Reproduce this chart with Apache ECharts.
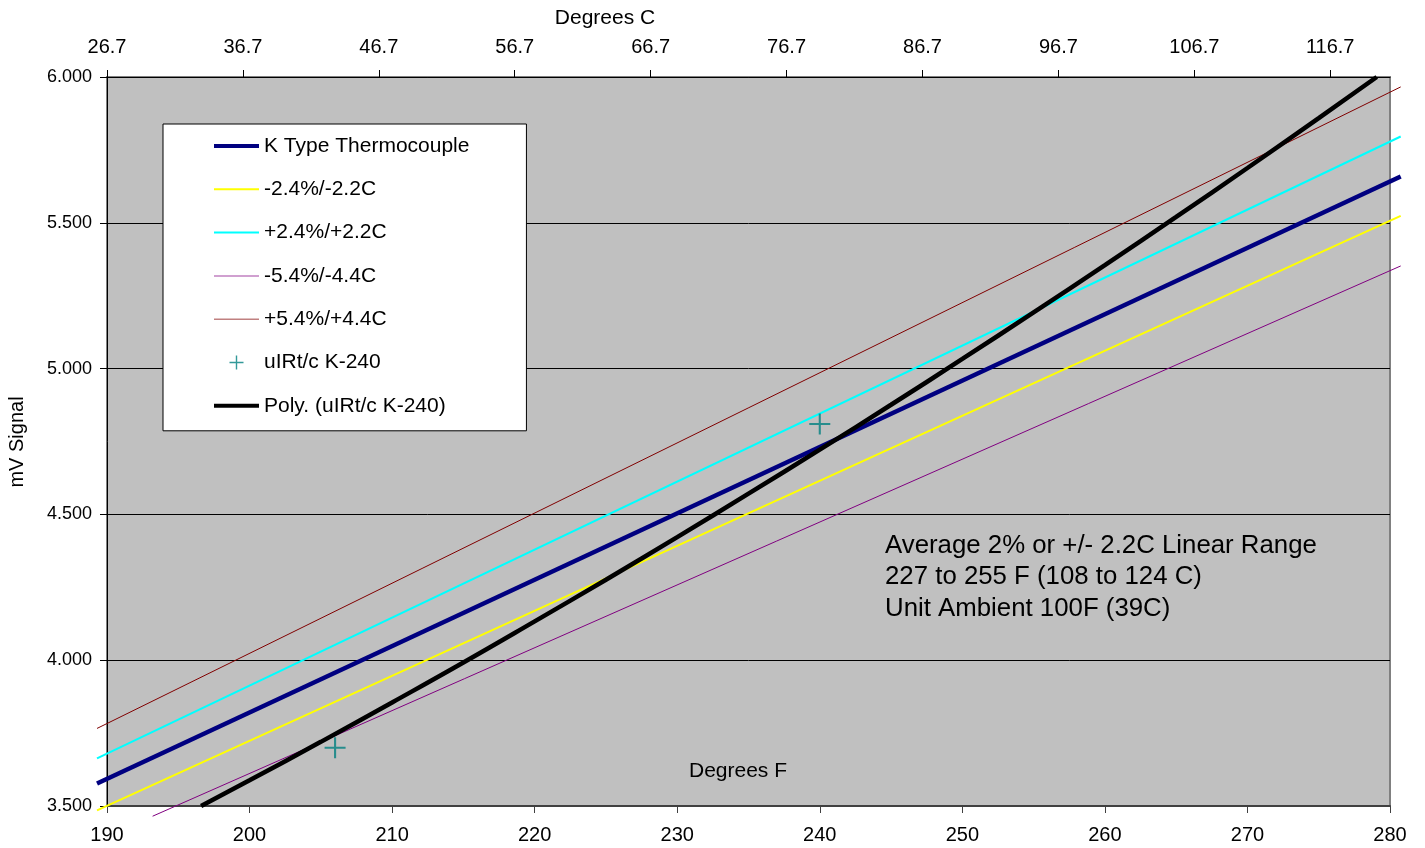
<!DOCTYPE html>
<html>
<head>
<meta charset="utf-8">
<script src="https://cdn.jsdelivr.net/npm/echarts@6/dist/echarts.min.js"></script>
<style>
html,body{margin:0;padding:0;background:#fff;}
#chart{width:1425px;height:848px;}
</style>
</head>
<body>
<div id="chart"></div>
<script>
// ---- data ----
const degreesC = [26.7, 36.7, 46.7, 56.7, 66.7, 76.7, 86.7, 96.7, 106.7, 116.7];
const lineF = [189.3, 280.75];
const kType = [3.577, 5.659];
const minus24 = [3.485, 5.524];
const plus24 = [3.663, 5.796];
const minus54F = [193.2, 280.75];
const minus54 = [3.465, 5.352];
const plus54 = [3.766, 5.966];
const measF = [206, 240];
const measMV = [3.70, 4.81];
const polyF = [196.6, 200, 205, 210, 215, 220, 225, 230, 235, 240, 245, 250, 255, 260, 265, 270, 275, 279.07];
const polyMV = [3.500, 3.588, 3.720, 3.855, 3.992, 4.133, 4.276, 4.422, 4.571, 4.722, 4.876, 5.033, 5.193, 5.355, 5.520, 5.688, 5.859, 6.000];

const names = ['K Type Thermocouple', '-2.4%/-2.2C', '+2.4%/+2.2C', '-5.4%/-4.4C', '+5.4%/+4.4C', 'uIRt/c K-240', 'Poly. (uIRt/c K-240)'];

function pairs(xs, ys) { return xs.map((x, i) => [x, ys[i]]); }

const FONT = '"Liberation Sans", Arial, sans-serif';
const chart = echarts.init(document.getElementById('chart'));

// main plot geometry
const G = { left: 107, top: 77, right: 35, bottom: 42 };
const plotW = 1425 - G.left - G.right;
const plotH = 848 - G.top - G.bottom;
const pxPerF = plotW / 90;
const pxPerMV = plotH / 2.5;
// wider overlay grid (same scale) so reference lines may run past the plot edges
const X2 = [189, 281], Y2 = [3.4, 6.0];
const G2 = {
  left: G.left - (190 - X2[0]) * pxPerF,
  right: G.right - (X2[1] - 280) * pxPerF,
  top: G.top,
  bottom: G.bottom - (3.5 - Y2[0]) * pxPerMV
};

function lineSeries(name, xs, ys, color, width) {
  return {
    name, type: 'line', data: pairs(xs, ys), symbol: 'none', clip: false,
    xAxisIndex: 2, yAxisIndex: 1,
    lineStyle: { color, width }, itemStyle: { color }, z: 3
  };
}

const plusPath = 'path://M9,0H11V9H20V11H11V20H9V11H0V9H9Z';
function barIcon(t) { return 'path://M0,0H45V' + t + 'H0Z'; }

chart.setOption({
  animation: false,
  backgroundColor: '#ffffff',
  textStyle: { fontFamily: FONT },
  grid: [
    Object.assign({ show: true, backgroundColor: '#C0C0C0', borderColor: '#808080', borderWidth: 2, outerBoundsMode: 'none' }, G),
    Object.assign({ show: false, outerBoundsMode: 'none' }, G2)
  ],
  xAxis: [
    {
      type: 'value', gridIndex: 0, position: 'bottom', min: 190, max: 280, interval: 10,
      axisLine: { show: true, onZero: false, lineStyle: { color: '#404040', width: 2 } },
      axisTick: { show: true, inside: false, length: 7, lineStyle: { color: '#404040' } },
      axisLabel: { color: '#000', fontSize: 20, fontFamily: FONT, margin: 19 },
      splitLine: { show: false }
    },
    {
      type: 'value', gridIndex: 0, position: 'top', min: 26.7, max: 121.1,
      axisLine: { show: true, onZero: false, lineStyle: { color: '#000', width: 1 } },
      axisTick: { show: true, inside: false, length: 7, customValues: degreesC, lineStyle: { color: '#000' } },
      axisLabel: { color: '#000', fontSize: 20, fontFamily: FONT, margin: 20, customValues: degreesC,
        formatter: v => Number(v).toFixed(1) },
      splitLine: { show: false }
    },
    {
      type: 'value', gridIndex: 1, min: X2[0], max: X2[1], show: false
    }
  ],
  yAxis: [
    {
      type: 'value', gridIndex: 0, min: 3.5, max: 6, interval: 0.5,
      axisLine: { show: true, onZero: false, lineStyle: { color: '#000', width: 1 } },
      axisTick: { show: true, inside: false, length: 7, lineStyle: { color: '#000' } },
      axisLabel: { color: '#000', fontSize: 18, fontFamily: FONT, margin: 15, formatter: v => v.toFixed(3) },
      splitLine: { show: true, lineStyle: { color: '#000', width: 1 } }
    },
    {
      type: 'value', gridIndex: 1, min: Y2[0], max: Y2[1], show: false
    }
  ],
  legend: {
    orient: 'vertical', left: 163, top: 124,
    data: [
      { name: names[0], icon: barIcon(4) },
      { name: names[1], icon: barIcon(2) },
      { name: names[2], icon: barIcon(2) },
      { name: names[3], icon: barIcon(1.5), itemStyle: { color: '#C080C0' } },
      { name: names[4], icon: barIcon(1.5), itemStyle: { color: '#C08080' } },
      { name: names[5], icon: plusPath },
      { name: names[6], icon: barIcon(4) }
    ],
    backgroundColor: '#ffffff', borderColor: '#000', borderWidth: 1,
    padding: [11, 57, 14, 51],
    itemWidth: 45, itemHeight: 14, itemGap: 21.3,
    textStyle: { color: '#000', fontSize: 21, fontFamily: FONT, lineHeight: 22 }
  },
  series: [
    lineSeries(names[0], lineF, kType, '#000080', 4.5),
    lineSeries(names[1], lineF, minus24, '#FFFF00', 2),
    lineSeries(names[2], lineF, plus24, '#00FFFF', 2),
    lineSeries(names[3], minus54F, minus54, '#800080', 1),
    lineSeries(names[4], lineF, plus54, '#800000', 1),
    {
      name: names[5], type: 'scatter', data: pairs(measF, measMV), xAxisIndex: 0, yAxisIndex: 0,
      symbol: plusPath, symbolSize: 21, itemStyle: { color: '#008080' }, z: 5
    },
    {
      name: names[6], type: 'line', data: pairs(polyF, polyMV), xAxisIndex: 0, yAxisIndex: 0,
      symbol: 'none', smooth: true, clip: true,
      lineStyle: { color: '#000', width: 4.5 }, itemStyle: { color: '#000' }, z: 4
    }
  ],
  graphic: [
    { type: 'text', x: 605, y: 18, style: { text: 'Degrees C', font: '21px ' + FONT, fill: '#000', align: 'center', verticalAlign: 'middle' } },
    { type: 'text', x: 738, y: 771, z: 10, style: { text: 'Degrees F', font: '21px ' + FONT, fill: '#000', align: 'center', verticalAlign: 'middle' } },
    { type: 'text', x: 17, y: 442, rotation: Math.PI / 2, style: { text: 'mV Signal', font: '20px ' + FONT, fill: '#000', align: 'center', verticalAlign: 'middle' } },
    { type: 'text', x: 885, y: 530, z: 10, style: { text: 'Average 2% or +/- 2.2C Linear Range\n227 to 255 F (108 to 124 C)\nUnit Ambient 100F (39C)', font: '25.8px ' + FONT, lineHeight: 31.5, fill: '#000', align: 'left', verticalAlign: 'top' } }
  ]
});
</script>
</body>
</html>
